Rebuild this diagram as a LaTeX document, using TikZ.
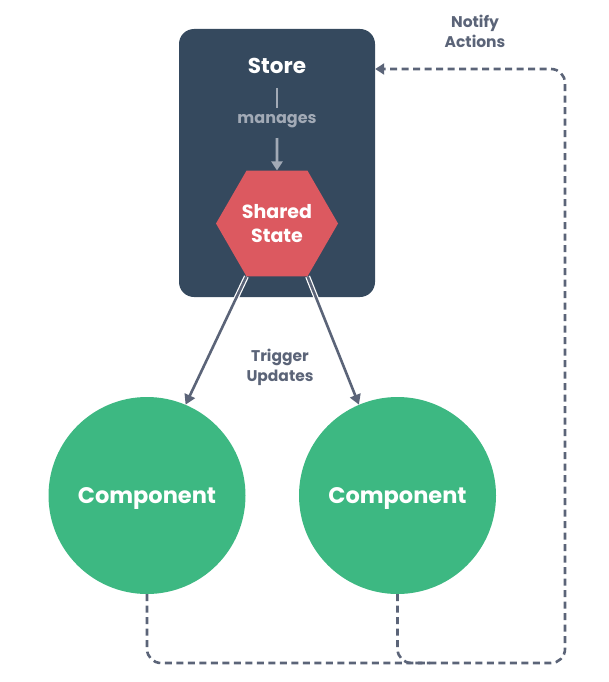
\documentclass[tikz,border=0pt]{standalone}
\usepackage{fontspec}
\setmainfont{Poppins}
\usetikzlibrary{arrows.meta,shapes.geometric}
\definecolor{navy}{HTML}{35495E}
\definecolor{redstate}{HTML}{DC5960}
\definecolor{vuegreen}{HTML}{3DB882}
\definecolor{linegrey}{HTML}{5B6478}
\definecolor{mgrey}{HTML}{A2AAB6}
\begin{document}
\begin{tikzpicture}[x=1pt,y=-1pt,
  storebox/.style={draw=none,fill=navy,rounded corners=15pt,minimum width=196pt,minimum height=268pt,inner sep=0pt},
  hexstate/.style={regular polygon,regular polygon sides=6,fill=redstate,minimum size=122pt,inner sep=0pt,text=white,font=\bfseries\fontsize{19}{24}\selectfont,align=center},
  comp/.style={circle,fill=vuegreen,minimum size=197pt,inner sep=0pt,text depth=0pt,text=white,font=\bfseries\fontsize{22.5}{27}\selectfont},
  lbl/.style={text=linegrey,font=\bfseries\fontsize{15.5}{20}\selectfont,align=center},
  trig/.style={draw=linegrey,line width=2.6pt,-{Triangle[length=10pt,width=11pt]}},
  halo/.style={draw=white,line width=5pt,shorten >=12pt},
  flow/.style={draw=linegrey,line width=2.6pt,dash pattern=on 7pt off 4.5pt,rounded corners=14pt},
  mline/.style={draw=mgrey,line width=2.6pt}
]
\useasboundingbox (0,0) rectangle (608,682);

% store container and its contents
\node[storebox] (store) at (277,163) {};
\node[text=white,font=\bfseries\fontsize{21.5}{26}\selectfont] (storelbl) at (277,66) {Store};
\node[text=mgrey,font=\bfseries\fontsize{16}{20}\selectfont] (manages) at (277,121) {manages};
\node[hexstate] (hex) at (277,223.5) {Shared\\State};
\coordinate (mtop) at (277,88);
\coordinate (mbot) at (277,108);
\coordinate (mstart) at (277,138);
\draw[mline] (mtop) -- (mbot);
\draw[mline,-{Triangle[length=9pt,width=11pt]}] (mstart) -- (hex.north);

% components
\node[comp] (c1) at (147,495.5) {Component};
\node[comp] (c2) at (397.5,495.5) {Component};

% trigger updates, with a light edge where they cross the store
\draw[halo] (hex.240) -- (c1.67);
\draw[halo] (hex.300) -- (c2.113);
\draw[trig] (hex.240) -- (c1.67);
\draw[trig] (hex.300) -- (c2.113);
\node[lbl] (trigger) at (280,367) {Trigger\\Updates};

% notify actions loop
\coordinate (bl) at (147,663);
\coordinate (br) at (565,663);
\coordinate (tr) at (565,69);
\coordinate (join) at (430,663);
\draw[flow,-{Triangle[length=9pt,width=11pt]}] (c1.south) -- (bl) -- (br) -- (tr) -- (store.east |- tr);
\draw[flow] (c2.south) |- (join);
\node[lbl] (notify) at (475,31) {Notify\\Actions};
\end{tikzpicture}
\end{document}
